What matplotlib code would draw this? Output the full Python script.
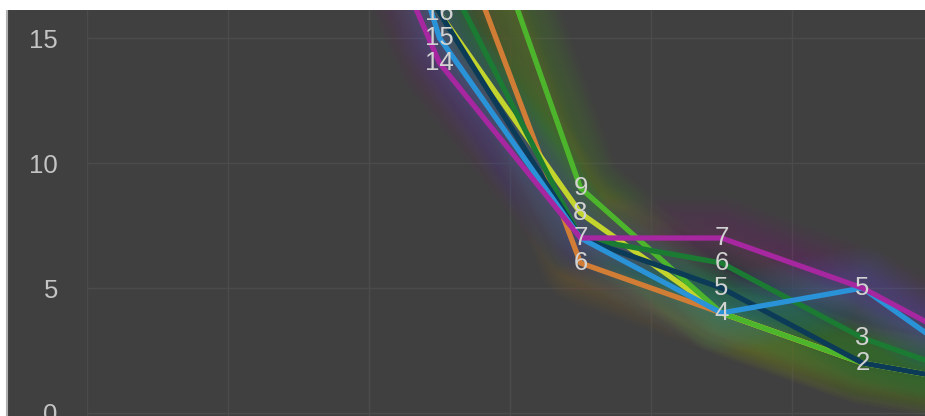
import matplotlib
matplotlib.use("Agg")
import matplotlib.pyplot as plt
from matplotlib.patches import Rectangle
from matplotlib.lines import Line2D

categories = ["A", "B", "C", "D", "E", "F", "G"]

magenta = [34, 27, 14, 7, 7, 5, 2]
blue = [38, 33, 15, 7, 4, 5, 1]
navy = [30, 24, 16, 7, 5, 2, 1]
yellow = [31, 24, 16, 8, 4, 2, 1]
dkgreen = [33, 28, 18, 7, 6, 3, 1]
orange = [36, 30, 21, 6, 4, 2, 1]
ltgreen = [40, 32, 25, 9, 4, 2, 1]

series = [
    (orange, "#d27d36"),
    (yellow, "#c3d52c"),
    (ltgreen, "#4db52c"),
    (dkgreen, "#1b7b33"),
    (navy, "#0c3b57"),
    (blue, "#2a93d8"),
    (magenta, "#a6279f"),
]

W, H = 925, 416
fig = plt.figure(figsize=(W / 100, H / 100), dpi=100)
fig.patch.set_facecolor("white")

# dark panel background
fig.add_artist(Rectangle((8 / W, 0), 1, 1, transform=fig.transFigure,
                         facecolor="#404040", edgecolor="none", zorder=0))
fig.add_artist(Line2D([7 / W, 7 / W], [0, 1], transform=fig.transFigure,
                      color="#b0b0b0", lw=1.5, zorder=1))

left = 87 / W
ax = fig.add_axes([left, 0, 1 - left, 1])
ax.set_facecolor("none")
ax.set_zorder(2)

x = list(range(len(categories)))
xmax = (W - 87) / 141 - 0.5
ax.set_xlim(-0.5, xmax)
ax.set_ylim(-3 / 25, 413 / 25)

# grid
for v in [0, 5, 10, 15]:
    ax.axhline(v, color="#4b4b4b", lw=1, zorder=0)
for k in range(len(categories)):
    ax.axvline(k - 0.5, color="#4b4b4b", lw=1, zorder=0)

# glow (soft, many thin layers)
for vals, col in series:
    for w in range(8, 60, 3):
        ax.plot(x, vals, color=col, lw=w, alpha=0.018, solid_joinstyle="round",
                solid_capstyle="round", zorder=1)

# lines
for i, (vals, col) in enumerate(series):
    ax.plot(x, vals, color=col, lw=3.8, solid_joinstyle="round",
            solid_capstyle="round", zorder=3 + i * 0.01)

# labels (one per distinct value at each visible category)
ymax = ax.get_ylim()[1]
for k in x:
    if k > xmax:
        continue
    seen = set()
    for vals, col in series:
        v = vals[k]
        if v in seen or v > ymax + 1:
            continue
        seen.add(v)
        ax.text(k, v, str(v), ha="center", va="center", fontsize=18.5,
                color="#d2d2d2", family="Liberation Sans", zorder=10,
                clip_on=False)

ax.set_yticks([0, 5, 10, 15])
ax.set_yticklabels(["0", "5", "10", "15"])
ax.tick_params(axis="y", length=0, pad=21, labelsize=18.5, labelcolor="#c4c4c4")
for lab in ax.get_yticklabels():
    lab.set_family("Liberation Sans")
ax.set_xticks([])
for s in ax.spines.values():
    s.set_visible(False)

# white top strip
fig.add_artist(Rectangle((0, 1 - 10 / H), 1, 10 / H, transform=fig.transFigure,
                         facecolor="white", edgecolor="none", zorder=100))

fig.savefig("out.png", dpi=100, facecolor=fig.get_facecolor())
